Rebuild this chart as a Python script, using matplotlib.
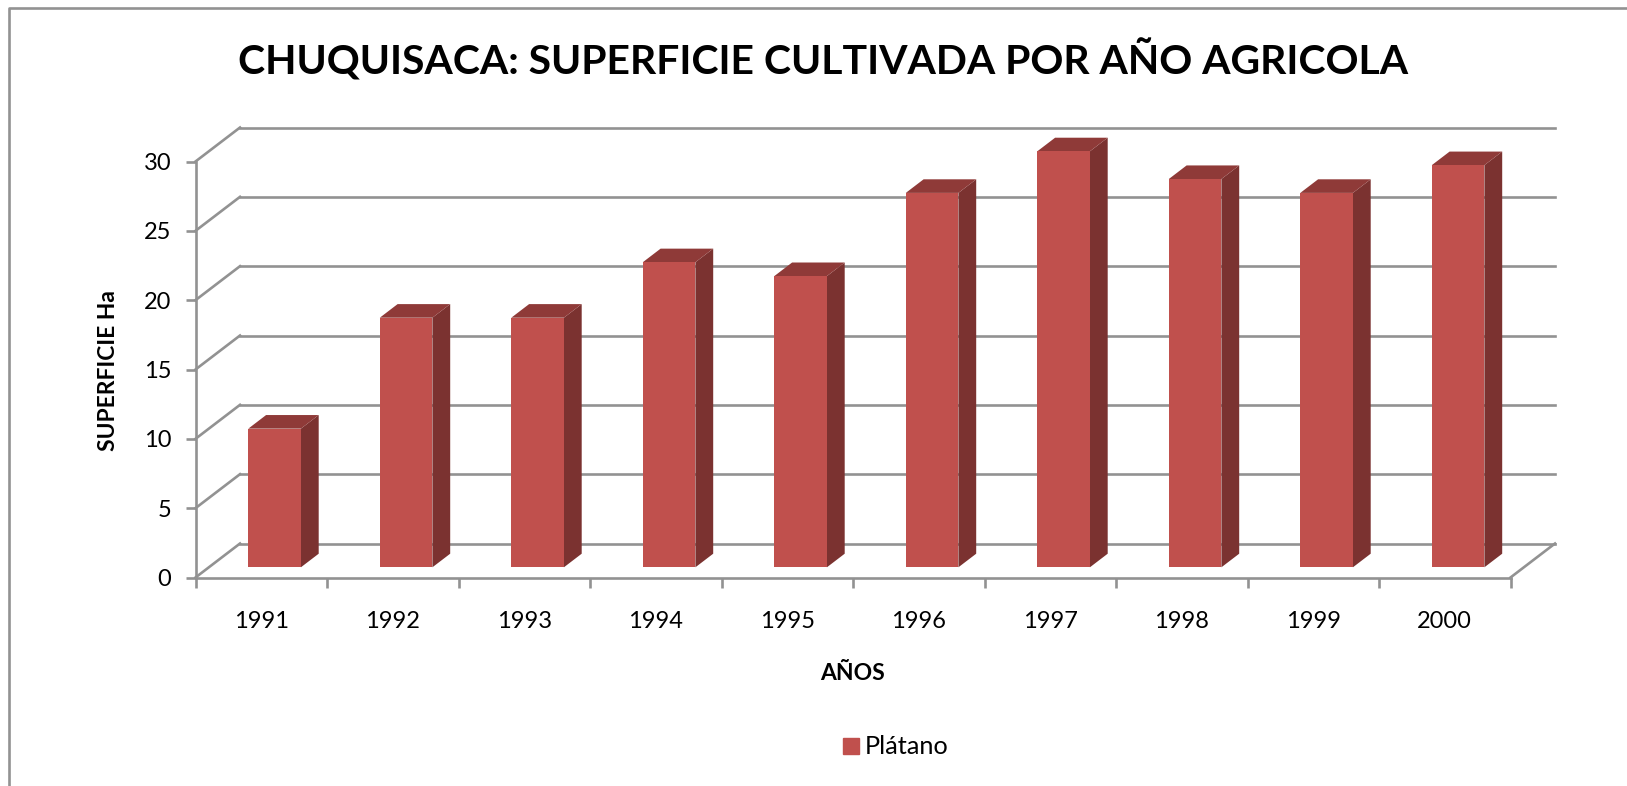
# Chuquisaca: 3D look column chart, drawn with sheared polygons on a 2D axes
import matplotlib
matplotlib.use('Agg')
import matplotlib.pyplot as plt
from matplotlib.lines import Line2D
from matplotlib.patches import Patch, Polygon

# Data
years = ['1991', '1992', '1993', '1994', '1995', '1996', '1997', '1998', '1999', '2000']
platano = [10, 18, 18, 22, 21, 27, 30, 28, 27, 29]
y_ticks = [0, 5, 10, 15, 20, 25, 30]

title = 'CHUQUISACA: SUPERFICIE CULTIVADA POR AÑO AGRICOLA'
x_label = 'AÑOS'
y_label = 'SUPERFICIE Ha'
series_name = 'Plátano'

W, H = 1627, 786
GRAY = '#929292'
LW = 1.9
FRONT = '#c0504d'
SIDE = '#7b3230'
TOP = '#8f3a38'

# depth of the floor, in axis units (categories, hectares)
DX = 44.5 / 131.5
DY = 34 / 13.87
BAR_W = 0.4

plt.rcParams['font.family'] = ['Lato', 'DejaVu Sans']

fig = plt.figure(figsize=(W / 100, H / 100), dpi=100)
ax = fig.add_axes([195.5 / W, 1 - 577.5 / H, 1315 / W, 416 / H])
ax.set_xlim(0, len(years))
ax.set_ylim(0, 30)
ax.patch.set_alpha(0)

for s in ['top', 'right']:
    ax.spines[s].set_visible(False)
for s in ['left', 'bottom']:
    ax.spines[s].set_color(GRAY)
    ax.spines[s].set_linewidth(LW)

# back wall and side wall
for v in y_ticks:
    ax.plot([DX, len(years) + DX], [v + DY, v + DY], color=GRAY, lw=LW, clip_on=False, zorder=1)
    ax.plot([0, DX], [v, v + DY], color=GRAY, lw=LW, clip_on=False, zorder=1)
ax.plot([len(years), len(years) + DX], [0, DY], color=GRAY, lw=LW, clip_on=False, zorder=1)

# bars sit in the middle of the depth
for i, v in enumerate(platano):
    x0 = i + 0.5 - BAR_W / 2 + 0.3 * DX
    x1 = x0 + BAR_W
    y0 = 0.3 * DY
    y1 = y0 + v
    dx = 0.4 * DX
    dy = 0.4 * DY
    ax.add_patch(Polygon([(x1, y0), (x1 + dx, y0 + dy), (x1 + dx, y1 + dy), (x1, y1)],
                         fc=SIDE, ec='none', clip_on=False, zorder=3))
    ax.add_patch(Polygon([(x0, y1), (x1, y1), (x1 + dx, y1 + dy), (x0 + dx, y1 + dy)],
                         fc=TOP, ec='none', clip_on=False, zorder=3))
    ax.add_patch(Polygon([(x0, y0), (x1, y0), (x1, y1), (x0, y1)],
                         fc=FRONT, ec='none', clip_on=False, zorder=4))

ax.set_xticks(range(len(years) + 1))
ax.set_xticklabels([])
ax.set_xticks([i + 0.5 for i in range(len(years))], labels=years, minor=True)
ax.tick_params(axis='x', which='major', length=7, width=LW, color=GRAY)
ax.tick_params(axis='x', which='minor', length=0, pad=24, labelsize=17, labelcolor='black')
ax.set_yticks(y_ticks)
ax.tick_params(axis='y', length=7, width=LW, color=GRAY, pad=10.5, labelsize=17, labelcolor='black')

fig.text(823 / W, 1 - 60 / H, title, fontsize=29.4, fontweight='bold', ha='center', va='center')
fig.text(853 / W, 1 - 674 / H, x_label, fontsize=16.5, fontweight='bold', ha='center', va='center')
fig.text(108 / W, 1 - 371 / H, y_label, fontsize=16.4, fontweight='bold', rotation=90, ha='center', va='center')

# chart border, cropped on the right and bottom
fig.add_artist(Line2D([8.5 / W, 8.5 / W, 1], [0, 1 - 8 / H, 1 - 8 / H], color=GRAY, lw=LW))

fig.legend(handles=[Patch(color=FRONT, label=series_name)], loc='center', frameon=False,
           bbox_to_anchor=(896 / W, 1 - 747 / H), fontsize=18.2, handlelength=0.6,
           handleheight=0.6, handletextpad=0.25)

fig.savefig('out.png', dpi=100)
